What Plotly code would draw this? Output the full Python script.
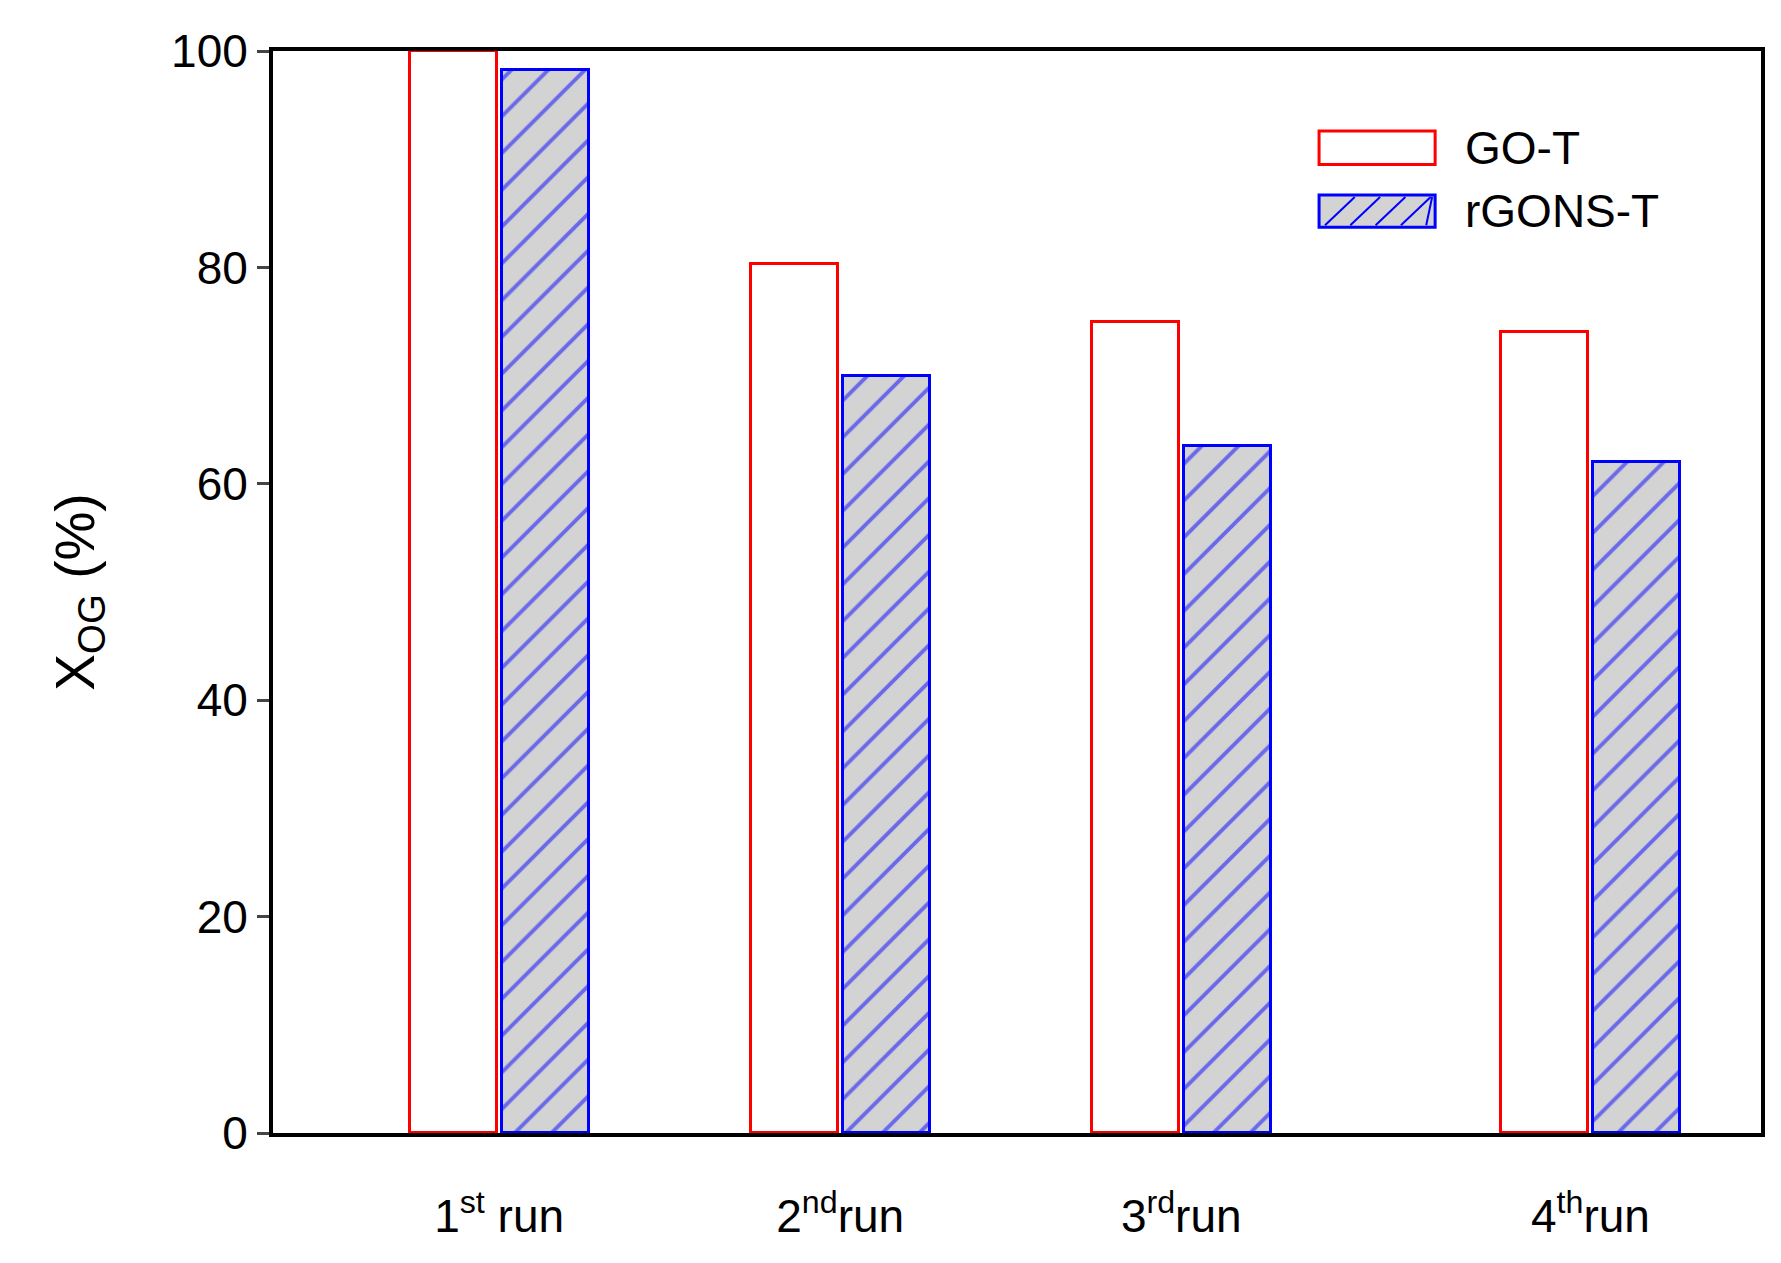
import plotly.graph_objects as go

runs = ["1<sup>st</sup> run", "2<sup>nd</sup>run", "3<sup>rd</sup>run", "4<sup>th</sup>run"]
run_pos = [1, 2, 3, 4.2]
go_t = [100, 80.3, 75, 74]
rgons_t = [98.2, 70, 63.5, 62]
series_names = ["GO-T", "rGONS-T"]

off = 0.135
w = 0.255
fig = go.Figure()
fig.add_bar(x=[p - off for p in run_pos], y=go_t, width=w, name=series_names[0], showlegend=False,
            marker=dict(color="white", line=dict(color="red", width=3)))
fig.add_bar(x=[p + off for p in run_pos], y=rgons_t, width=w, name=series_names[1], showlegend=False,
            marker=dict(color="#d3d3d3", line=dict(color="blue", width=3),
                        pattern=dict(shape="/", fgcolor="blue", bgcolor="#d3d3d3", size=26, solidity=0.15)))

# manual legend
x0, x1 = 0.703, 0.781
fig.add_shape(type="rect", xref="paper", yref="paper", x0=x0, x1=x1, y0=0.895, y1=0.926,
              line=dict(color="red", width=3), fillcolor="white")
fig.add_shape(type="rect", xref="paper", yref="paper", x0=x0, x1=x1, y0=0.837, y1=0.867,
              line=dict(color="blue", width=3), fillcolor="#d3d3d3")
for i in range(5):
    a = x0 + 0.004 + i * 0.017
    fig.add_shape(type="line", xref="paper", yref="paper", x0=a, x1=min(a + 0.02, x1 - 0.002),
                  y0=0.839, y1=0.865, line=dict(color="blue", width=2))
for yy, nm in zip([0.91, 0.852], series_names):
    fig.add_annotation(xref="paper", yref="paper", x=0.8, y=yy, text=nm, showarrow=False,
                       xanchor="left", yanchor="middle", font=dict(size=46))

fig.update_layout(
    width=1781, height=1263, plot_bgcolor="white", paper_bgcolor="white",
    font=dict(family="Liberation Sans, Arial", size=46, color="black"),
    margin=dict(l=265, r=28, t=43, b=138),
    barmode="overlay", bargap=0, showlegend=False,
    xaxis=dict(range=[0.337, 4.70], tickvals=run_pos, ticktext=runs, showgrid=False,
               showline=True, linewidth=4, linecolor="black", mirror=True, ticks="",
               zeroline=False, ticklabelstandoff=40),
    yaxis=dict(range=[0, 100], dtick=20, showgrid=False, showline=True, linewidth=4,
               linecolor="black", mirror=True, ticks="outside", ticklen=12, tickwidth=3,
               zeroline=False, title=dict(text="X<sub>OG</sub> (%)", standoff=60)),
)
fig.write_html("out.html")
